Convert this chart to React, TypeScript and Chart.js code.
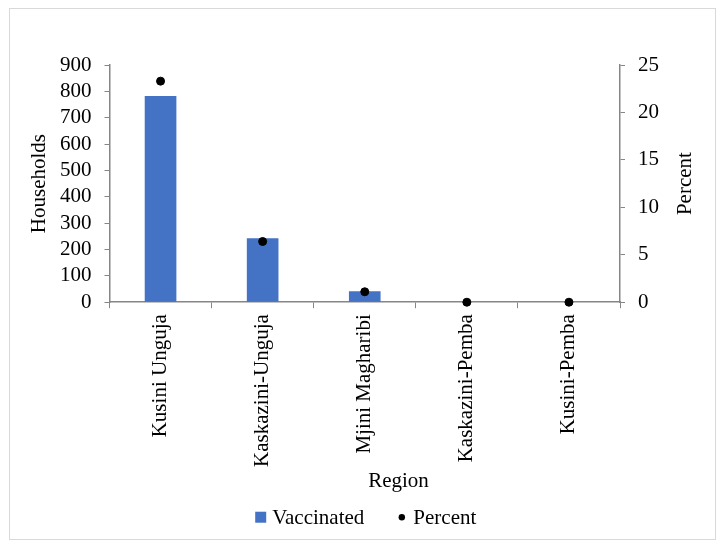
import React, { useEffect, useRef } from "react";
import { Chart, registerables } from "chart.js";
Chart.register(...registerables);

const regions = ["Kusini Unguja", "Kaskazini-Unguja", "Mjini Magharibi", "Kaskazini-Pemba", "Kusini-Pemba"];
const vaccinated = [782, 243, 42, 0, 0];
const percent = [23.3, 6.4, 1.1, 0, 0];
const leftTicks = [0, 100, 200, 300, 400, 500, 600, 700, 800, 900];
const rightTicks = [0, 5, 10, 15, 20, 25];

const FONT = "'Liberation Serif', 'Times New Roman', serif";
const FS = 21;
const AXIS = "#868686";
const BAR = "#4472c4";

const extras = {
  id: "extras",
  afterDraw(chart: any) {
    const { ctx, chartArea } = chart;
    ctx.save();
    ctx.font = `${FS}px ${FONT}`;
    ctx.fillStyle = "#000";
    ctx.textBaseline = "middle";
    // right axis title
    ctx.save();
    ctx.textAlign = "center";
    ctx.translate(chartArea.right + 65, (chartArea.top + chartArea.bottom) / 2);
    ctx.rotate(-Math.PI / 2);
    ctx.fillText("Percent", 0, 0);
    ctx.restore();
    // left axis title
    ctx.save();
    ctx.textAlign = "center";
    ctx.translate(chartArea.left - 70, (chartArea.top + chartArea.bottom) / 2);
    ctx.rotate(-Math.PI / 2);
    ctx.fillText("Households", 0, 0);
    ctx.restore();
    // x axis title
    ctx.textAlign = "center";
    ctx.fillText("Region", chartArea.left + 289, chartArea.bottom + 179);
    // legend
    const ly = chartArea.bottom + 215;
    const w1 = ctx.measureText("Vaccinated").width;
    const w2 = ctx.measureText("Percent").width;
    const total = 11 + 6 + w1 + 32 + 11 + 6 + w2;
    let x = (chartArea.left + chartArea.right) / 2 - total / 2 + 1;
    ctx.fillStyle = BAR;
    ctx.fillRect(x, ly - 5.5, 11, 11);
    x += 17;
    ctx.fillStyle = "#000";
    ctx.textAlign = "left";
    ctx.fillText("Vaccinated", x, ly + 1);
    x += w1 + 32;
    ctx.beginPath();
    ctx.arc(x + 5.5, ly, 3.2, 0, Math.PI * 2);
    ctx.fill();
    x += 17;
    ctx.fillText("Percent", x, ly + 1);
    ctx.restore();
  },
};

export default function App() {
  const ref = useRef<HTMLCanvasElement>(null);
  useEffect(() => {
    const chart = new Chart(ref.current!, {
      type: "bar",
      data: {
        labels: regions,
        datasets: [
          {
            type: "bar",
            label: "Vaccinated",
            data: vaccinated,
            backgroundColor: BAR,
            barPercentage: 0.31,
            categoryPercentage: 1,
            yAxisID: "y",
            order: 2,
          },
          {
            type: "line",
            label: "Percent",
            data: percent,
            showLine: false,
            pointRadius: 4,
            pointBackgroundColor: "#000",
            pointBorderColor: "#000",
            backgroundColor: "#000",
            borderColor: "#000",
            yAxisID: "y1",
            clip: false,
            order: 1,
          } as any,
        ],
      },
      options: {
        animation: false,
        responsive: false,
        maintainAspectRatio: false,
        layout: { padding: { left: 37, right: 43, top: 56, bottom: 66 } },
        plugins: {
          tooltip: { enabled: false },
          legend: { display: false },
        },
        scales: {
          x: {
            grid: { drawOnChartArea: false, drawTicks: true, tickLength: 6, color: AXIS, offset: true },
            border: { color: AXIS, width: 1.5 },
            ticks: { font: { family: FONT, size: FS }, color: "#000", maxRotation: 90, minRotation: 90, padding: 6, autoSkip: false },
          },
          y: {
            position: "left",
            min: 0,
            max: 900,
            afterBuildTicks: (s: any) => { s.ticks = leftTicks.map((v) => ({ value: v })); },
            grid: { drawOnChartArea: false, drawTicks: true, tickLength: 5, color: AXIS },
            border: { color: AXIS, width: 1.5 },
            ticks: { font: { family: FONT, size: FS }, color: "#000", padding: 13, autoSkip: false },
          },
          y1: {
            position: "right",
            min: 0,
            max: 25,
            afterBuildTicks: (s: any) => { s.ticks = rightTicks.map((v) => ({ value: v })); },
            grid: { drawOnChartArea: false, drawTicks: true, tickLength: 5, color: AXIS },
            border: { color: AXIS, width: 1.5 },
            ticks: { font: { family: FONT, size: FS }, color: "#000", padding: 13, autoSkip: false },
          },
        },
      },
      plugins: [extras],
    });
    return () => chart.destroy();
  }, []);
  return (
    <div style={{ position: "absolute", left: 9, top: 8, width: 707, height: 532, border: "1px solid #d9d9d9", boxSizing: "border-box", background: "#fff" }}>
      <canvas ref={ref} width={705} height={530} style={{ display: "block" }} />
    </div>
  );
}
